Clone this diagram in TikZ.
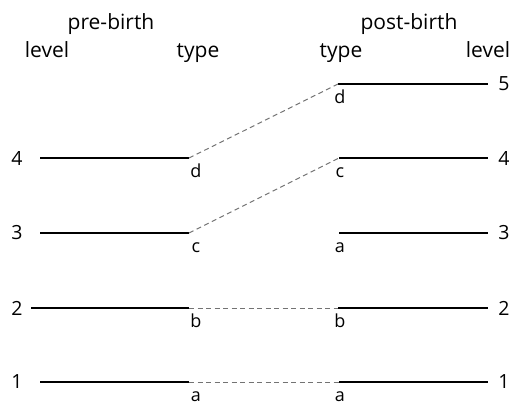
\documentclass[tikz,border=0pt]{standalone}
\usepackage{fontspec}
\setmainfont{Open Sans}
\begin{document}
\begin{tikzpicture}[x=1pt,y=-1pt,
  hdr/.style={font=\fontsize{21}{24}\selectfont, inner sep=0pt, anchor=base},
  num/.style={font=\fontsize{19.5}{22}\selectfont, inner sep=0pt},
  lbl/.style={font=\fontsize{18}{21}\selectfont, inner sep=0pt, anchor=base},
  lvl/.style={line width=1.2pt},
  lvlthick/.style={line width=2pt},
  conn/.style={black!55, line width=1pt, dash pattern=on 5pt off 3.5pt}]
\useasboundingbox (0,0) rectangle (514,405);
% headers
\node[hdr] (pre) at (111,29) {pre-birth};
\node[hdr] (post) at (409,29) {post-birth};
\node[hdr] (lvL) at (47,57) {level};
\node[hdr] (tyL) at (198,57) {type};
\node[hdr] (tyR) at (341,57) {type};
\node[hdr] (lvR) at (488,57) {level};
% line endpoints
\coordinate (L4s) at (40,158);  \coordinate (L4e) at (189,158);
\coordinate (L3s) at (40,233);  \coordinate (L3e) at (189,233);
\coordinate (L2s) at (31,308);  \coordinate (L2e) at (189,308);
\coordinate (L1s) at (40,382);  \coordinate (L1e) at (189,382);
\coordinate (R5s) at (338,84);  \coordinate (R5e) at (488,84);
\coordinate (R4s) at (339,158); \coordinate (R4e) at (488,158);
\coordinate (R3s) at (339,233); \coordinate (R3e) at (488,233);
\coordinate (R2s) at (338,308); \coordinate (R2e) at (488,308);
\coordinate (R1s) at (339,382); \coordinate (R1e) at (488,382);
% level lines
\draw[lvl] (L4s) -- (L4e);
\draw[lvl] (L3s) -- (L3e);
\draw[lvlthick] (L2s) -- (L2e);
\draw[lvl] (L1s) -- (L1e);
\draw[lvlthick] (R5s) -- (R5e);
\draw[lvl] (R4s) -- (R4e);
\draw[lvl] (R3s) -- (R3e);
\draw[lvlthick] (R2s) -- (R2e);
\draw[lvl] (R1s) -- (R1e);
% connectors
\draw[conn] (L4e) -- (R5s);
\draw[conn] (L3e) -- (R4s);
\draw[conn] (L2e) -- (R2s);
\draw[conn] (L1e) -- (R1s);
% level numbers
\node[num] (nL4) at (17,158) {4};
\node[num] (nL3) at (17,233) {3};
\node[num] (nL2) at (17,308) {2};
\node[num] (nL1) at (17,382) {1};
\node[num] (nR5) at (504,84) {5};
\node[num] (nR4) at (504,158) {4};
\node[num] (nR3) at (504,233) {3};
\node[num] (nR2) at (504,308) {2};
\node[num] (nR1) at (504,382) {1};
% type letters
\node[lbl] (tL4) at (196,177) {d};
\node[lbl] (tL3) at (196,252) {c};
\node[lbl] (tL2) at (196,327) {b};
\node[lbl] (tL1) at (196,401) {a};
\node[lbl] (tR5) at (340,103) {d};
\node[lbl] (tR4) at (340,177) {c};
\node[lbl] (tR3) at (340,252) {a};
\node[lbl] (tR2) at (340,327) {b};
\node[lbl] (tR1) at (340,401) {a};
\end{tikzpicture}
\end{document}
